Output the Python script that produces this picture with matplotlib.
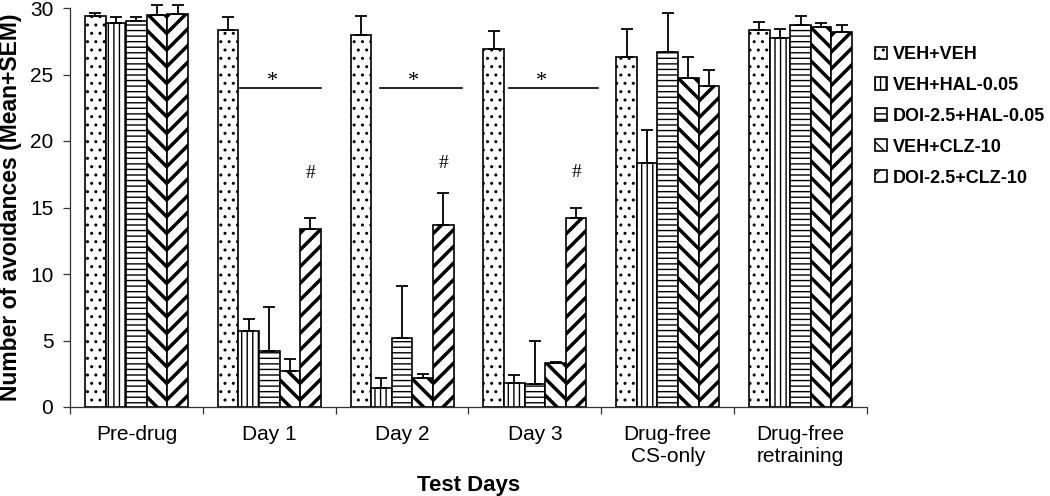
import numpy as np
import matplotlib
matplotlib.use('Agg')
import matplotlib.pyplot as plt
from matplotlib.patches import Patch

plt.rcParams['font.family'] = ['Liberation Sans', 'DejaVu Sans']

days = ['Pre-drug', 'Day 1', 'Day 2', 'Day 3', 'Drug-free\nCS-only', 'Drug-free\nretraining']
treatments = ['VEH+VEH', 'VEH+HAL-0.05', 'DOI-2.5+HAL-0.05', 'VEH+CLZ-10', 'DOI-2.5+CLZ-10']

# mean avoidances per test day
veh_veh = [29.4, 28.35, 28.0, 26.9, 26.3, 28.35]
veh_hal = [28.9, 5.7, 1.4, 1.78, 18.37, 27.77]
doi_hal = [29.0, 4.23, 5.2, 1.73, 26.7, 28.7]
veh_clz = [29.45, 2.7, 2.2, 3.28, 24.76, 28.55]
doi_clz = [29.55, 13.36, 13.7, 14.2, 24.1, 28.17]

# SEM (upper error only)
veh_veh_sem = [0.25, 1.0, 1.4, 1.4, 2.1, 0.62]
veh_hal_sem = [0.45, 0.9, 0.8, 0.6, 2.48, 0.63]
doi_hal_sem = [0.35, 3.27, 3.9, 3.27, 2.9, 0.7]
veh_clz_sem = [0.75, 0.9, 0.25, 0.12, 1.54, 0.35]
doi_clz_sem = [0.65, 0.84, 2.4, 0.76, 1.26, 0.55]

# significance marks: line (start, end) on days 1-3, star and hash heights
sig_days = [1, 2, 3]
sig_line_start = [1.280, 2.336, 3.303]
sig_line_end = [1.892, 2.953, 3.975]
sig_star_x = [1.526, 2.586, 3.547]
sig_line_y = 24.0
hash_y = [17.25, 18.0, 17.3]

means = [veh_veh, veh_hal, doi_hal, veh_clz, doi_clz]
sems = [veh_veh_sem, veh_hal_sem, doi_hal_sem, veh_clz_sem, doi_clz_sem]
hatches = ['..', '|||', '---', '\\\\', '//']
hatch_lw = [1.0, 1.0, 1.0, 2.5, 2.5]

fig = plt.figure(figsize=(10.5, 4.96), dpi=100)
ax = fig.add_axes([70 / 1050, 89 / 496, 797 / 1050, 399 / 496])

x = np.arange(len(days)) + 0.5
width = 0.155
offsets = (np.arange(5) - 2) * width

for k in range(5):
    with plt.rc_context({'hatch.linewidth': hatch_lw[k]}):
        bars = ax.bar(x + offsets[k], means[k], width, color='white', edgecolor='black',
                      linewidth=1.2, hatch=hatches[k], zorder=2)
    for b in bars:
        if hasattr(b, 'set_hatch_linewidth'):
            b.set_hatch_linewidth(hatch_lw[k])
    ax.errorbar(x + offsets[k], means[k], yerr=[np.zeros(len(days)), sems[k]],
                fmt='none', ecolor='black', elinewidth=1.3, capsize=4, capthick=1.3,
                zorder=3, clip_on=False)

for i in range(len(sig_days)):
    ax.plot([sig_line_start[i], sig_line_end[i]], [sig_line_y, sig_line_y], color='black', lw=1.2)
    ax.text(sig_star_x[i], sig_line_y + 0.1, '*', ha='center', va='baseline',
            fontsize=16, family='Liberation Serif')
    ax.text(x[sig_days[i]] + offsets[4], hash_y[i], '#', ha='center', va='baseline',
            fontsize=14, family='Liberation Serif')

ax.set_xlim(0, len(days))
ax.set_ylim(0, 30)
ax.set_yticks(np.arange(0, 31, 5))
ax.set_xticks(np.arange(len(days) + 1))
ax.set_xticklabels([])
ax.set_xticks(x, minor=True)
ax.set_xticklabels(days, minor=True, fontsize=15)
ax.tick_params(axis='x', which='minor', length=0, pad=13)
ax.tick_params(axis='both', which='major', length=5, width=0.9, color='#333333', direction='out')
ax.tick_params(axis='y', labelsize=15, pad=7)

for s in ['top', 'right']:
    ax.spines[s].set_visible(False)
for s in ['left', 'bottom']:
    ax.spines[s].set_linewidth(0.9)
    ax.spines[s].set_color('#333333')

ax.set_xlabel('Test Days', fontsize=16, fontweight='bold')
ax.xaxis.set_label_coords(0.5, -(491 - 407) / 399)
ax.xaxis.label.set_verticalalignment('baseline')
ax.set_ylabel('Number of avoidances (Mean+SEM)', fontsize=16.5, fontweight='bold')
ax.yaxis.set_label_coords(-(70 - 17) / 797, 0.5)
ax.yaxis.label.set_verticalalignment('baseline')

handles = []
for k in range(5):
    with plt.rc_context({'hatch.linewidth': hatch_lw[k]}):
        h = Patch(facecolor='white', edgecolor='black', hatch=hatches[k], linewidth=1.2)
    if hasattr(h, 'set_hatch_linewidth'):
        h.set_hatch_linewidth(hatch_lw[k])
    handles.append(h)
fig.legend(handles, treatments, loc='upper left', bbox_to_anchor=(875 / 1050, 1 - 46 / 496),
           frameon=False, borderpad=0, borderaxespad=0, handlelength=0.66, handleheight=0.66,
           handletextpad=0.35, labelspacing=0.77, prop={'weight': 'bold', 'size': 13})

fig.savefig('out.png', dpi=100)
